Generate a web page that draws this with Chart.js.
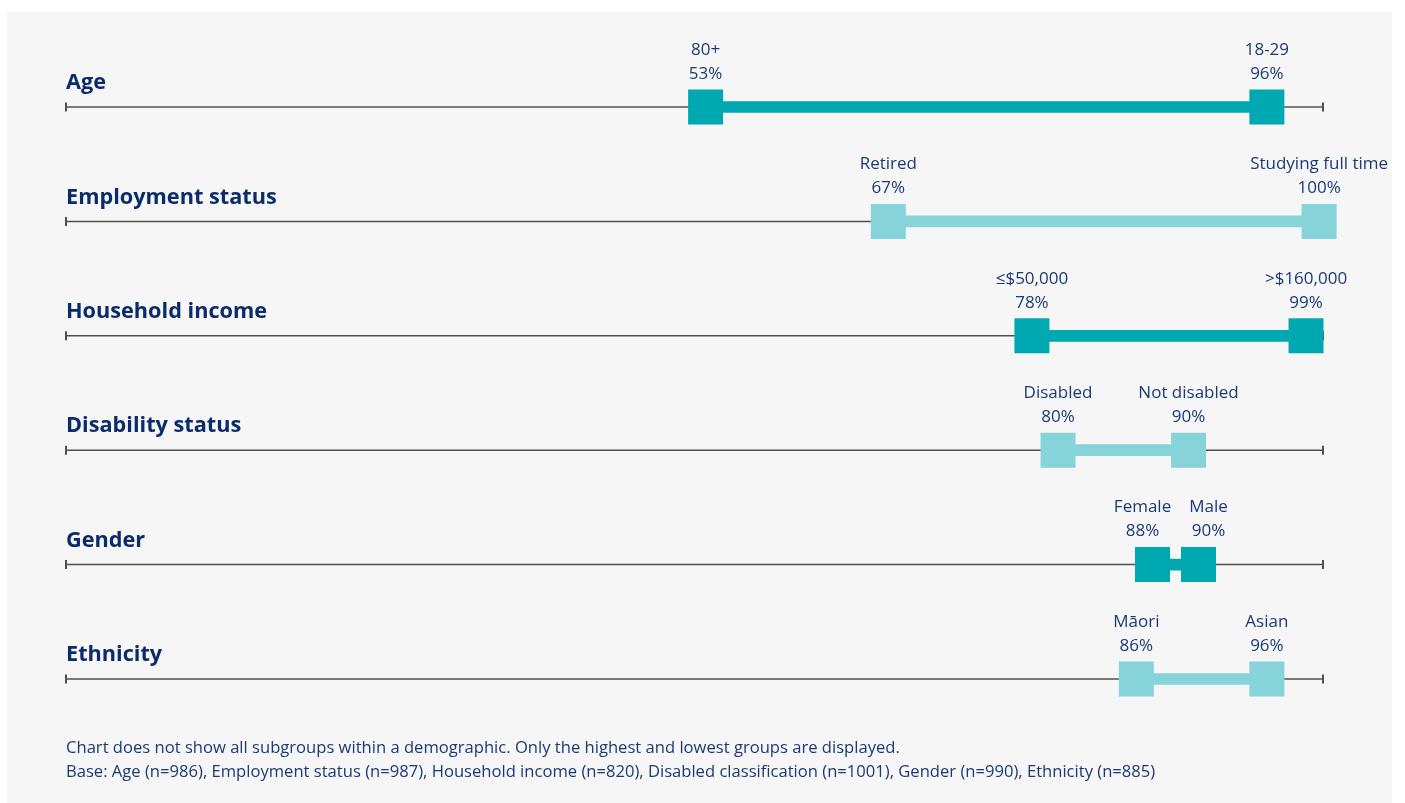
<!DOCTYPE html>
<html>
<head>
  <meta charset="UTF-8">
  <title>Highest and lowest subgroups by demographic</title>
  <script src="https://cdn.jsdelivr.net/npm/chart.js"></script>
  <style>
    body { margin: 0; background: #fff; font-family: "Open Sans", "Noto Sans", sans-serif; }
    #panel { position: absolute; left: 7px; top: 12px; width: 1385px; height: 791px; background: #f6f6f6; }
    #rangeChart { position: absolute; left: 0; top: 0; }
    #notes {
      position: absolute; left: 66px; top: 735px;
      font-size: 16.6px; line-height: 24px; color: #1b3a75;
    }
  </style>
</head>
<body>
  <div id="panel"></div>
  <canvas id="rangeChart" width="1405" height="803"></canvas>
  <div id="notes">
    Chart does not show all subgroups within a demographic. Only the highest and lowest groups are displayed.<br>
    Base: Age (n=986), Employment status (n=987), Household income (n=820), Disabled classification (n=1001), Gender (n=990), Ethnicity (n=885)
  </div>
  <script>
    const groups = ["Age", "Employment status", "Household income", "Disability status", "Gender", "Ethnicity"];
    const lowLabels = ["80+", "Retired", "≤$50,000", "Disabled", "Female", "Māori"];
    const lowValues = [53, 67, 78, 80, 88, 86];
    const highLabels = ["18-29", "Studying full time", ">$160,000", "Not disabled", "Male", "Asian"];
    const highValues = [96, 100, 99, 90, 90, 96];

    const DARK = "#00a8b1";
    const LIGHT = "#86d3da";
    const TEXT = "#1b3a75";
    const TITLE = "#0b2b6a";
    const rowColors = groups.map((g, i) => i % 2 === 0 ? DARK : LIGHT);
    const SQUARE = 35;              // side of the end squares, px
    const MIN_GAP = SQUARE + 11;    // keep the two ends of a row apart
    const LABEL_PAD = 18;           // space between neighbouring labels

    // push the two squares of a row apart when they would overlap
    const dodge = {
      id: "dodge",
      afterDatasetsUpdate(chart) {
        const bars = chart.getDatasetMeta(0).data;
        const lows = chart.getDatasetMeta(1).data;
        const highs = chart.getDatasetMeta(2).data;
        groups.forEach((g, i) => {
          const a = lows[i], b = highs[i];
          if (b.x - a.x < MIN_GAP) {
            const mid = (a.x + b.x) / 2;
            a.x = mid - MIN_GAP / 2;
            b.x = mid + MIN_GAP / 2;
            bars[i].base = a.x;
            bars[i].x = b.x;
          }
        });
      }
    };

    // baseline under each row, with small end ticks, plus the row title
    const baselines = {
      id: "baselines",
      beforeDatasetsDraw(chart) {
        const { ctx, chartArea, scales } = chart;
        ctx.save();
        groups.forEach((g, i) => {
          const y = scales.y.getPixelForValue(i);
          ctx.strokeStyle = "#505050";
          ctx.lineWidth = 1.5;
          ctx.beginPath();
          ctx.moveTo(chartArea.left, y);
          ctx.lineTo(chartArea.right, y);
          ctx.stroke();
          ctx.lineWidth = 2;
          ctx.beginPath();
          ctx.moveTo(chartArea.left, y - 4.5);
          ctx.lineTo(chartArea.left, y + 4.5);
          ctx.moveTo(chartArea.right, y - 4.5);
          ctx.lineTo(chartArea.right, y + 4.5);
          ctx.stroke();

          ctx.fillStyle = TITLE;
          ctx.font = "bold 21.7px 'Open Sans', 'Noto Sans', sans-serif";
          ctx.textAlign = "left";
          ctx.textBaseline = "middle";
          ctx.fillText(g, chartArea.left, y - 24);
        });
        ctx.restore();
      }
    };

    // subgroup name and percentage above each square
    const endLabels = {
      id: "endLabels",
      afterDatasetsDraw(chart) {
        const { ctx, scales } = chart;
        const lows = chart.getDatasetMeta(1).data;
        const highs = chart.getDatasetMeta(2).data;
        ctx.save();
        ctx.fillStyle = TEXT;
        ctx.font = "17px 'Open Sans', 'Noto Sans', sans-serif";
        ctx.textAlign = "center";
        ctx.textBaseline = "middle";
        groups.forEach((g, i) => {
          const y = scales.y.getPixelForValue(i);
          let xa = lows[i].x, xb = highs[i].x;
          const wa = Math.max(ctx.measureText(lowLabels[i]).width, ctx.measureText(lowValues[i] + "%").width);
          const wb = Math.max(ctx.measureText(highLabels[i]).width, ctx.measureText(highValues[i] + "%").width);
          const need = (wa + wb) / 2 + LABEL_PAD;
          if (xb - xa < need) {
            const shift = (need - (xb - xa)) / 2;
            xa -= shift;
            xb += shift;
          }
          ctx.fillText(lowLabels[i], xa, y - 57);
          ctx.fillText(lowValues[i] + "%", xa, y - 33);
          ctx.fillText(highLabels[i], xb, y - 57);
          ctx.fillText(highValues[i] + "%", xb, y - 33);
        });
        ctx.restore();
      }
    };

    const squareStyle = {
      type: "line",
      showLine: false,
      pointStyle: "rect",
      pointRadius: SQUARE / Math.SQRT2,
      pointHoverRadius: SQUARE / Math.SQRT2,
      pointBorderWidth: 0,
      pointBackgroundColor: rowColors,
      clip: false,
      order: 1
    };

    new Chart(document.getElementById("rangeChart"), {
      type: "bar",
      data: {
        labels: groups,
        datasets: [
          {
            label: "Range",
            data: lowValues.map((v, i) => [v, highValues[i]]),
            backgroundColor: rowColors,
            barThickness: 11,
            clip: false,
            order: 2
          },
          Object.assign({ label: "Lowest", data: lowValues.map((v, i) => ({ x: v, y: groups[i] })) }, squareStyle),
          Object.assign({ label: "Highest", data: highValues.map((v, i) => ({ x: v, y: groups[i] })) }, squareStyle)
        ]
      },
      options: {
        indexAxis: "y",
        responsive: false,
        animation: false,
        events: [],
        layout: { padding: { left: 66, right: 82, top: 107, bottom: 124 } },
        plugins: { legend: { display: false }, tooltip: { enabled: false } },
        scales: {
          x: { type: "linear", min: 4, max: 100.3, display: false },
          y: { offset: false, display: false }
        }
      },
      plugins: [dodge, baselines, endLabels]
    });
  </script>
</body>
</html>
